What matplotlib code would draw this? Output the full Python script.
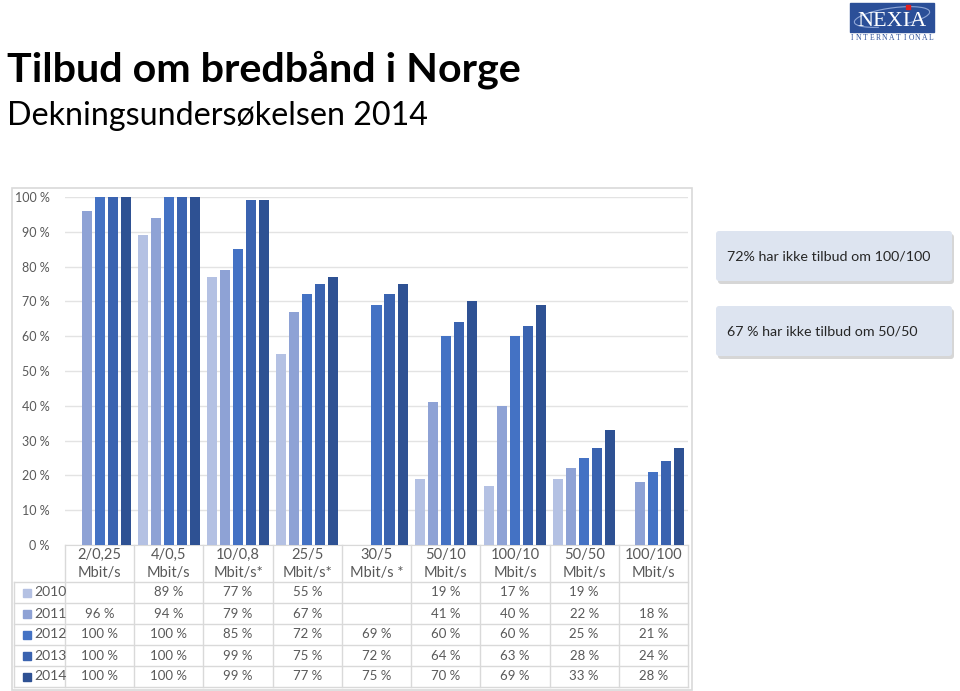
import numpy as np
import matplotlib.pyplot as plt
from matplotlib.patches import Rectangle, FancyBboxPatch, Arc
from matplotlib.transforms import blended_transform_factory

plt.rcParams['font.family'] = ['Lato', 'DejaVu Sans']

# Data
categories = ['2/0,25\nMbit/s', '4/0,5\nMbit/s', '10/0,8\nMbit/s*', '25/5\nMbit/s*',
              '30/5\nMbit/s *', '50/10\nMbit/s', '100/10\nMbit/s', '50/50\nMbit/s',
              '100/100\nMbit/s']
years = ['2010', '2011', '2012', '2013', '2014']
v2010 = [np.nan, 89, 77, 55, np.nan, 19, 17, 19, np.nan]
v2011 = [96, 94, 79, 67, np.nan, 41, 40, 22, 18]
v2012 = [100, 100, 85, 72, 69, 60, 60, 25, 21]
v2013 = [100, 100, 99, 75, 72, 64, 63, 28, 24]
v2014 = [100, 100, 99, 77, 75, 70, 69, 33, 28]
series = [v2010, v2011, v2012, v2013, v2014]
colors = ['#b4c1e3', '#8ea2d5', '#4472c4', '#3a63b0', '#2e5193']
notes = ['72% har ikke tilbud om 100/100', '67 % har ikke tilbud om 50/50']

W, H = 960, 691
fig = plt.figure(figsize=(W / 100, H / 100), dpi=100)

# overlay in pixel coordinates
ov = fig.add_axes([0, 0, 1, 1])
ov.set_xlim(0, W)
ov.set_ylim(H, 0)
ov.axis('off')

# chart frame
ov.add_patch(Rectangle((12, 188), 680, 502, fill=False, edgecolor='#d9d9d9', lw=1.2))

# main bar axes
x0, x1, ytop, ybot = 65, 688, 197, 545
ax = fig.add_axes([x0 / W, (H - ybot) / H, (x1 - x0) / W, (ybot - ytop) / H])
ax.set_zorder(2)
ax.patch.set_alpha(0)
n = len(categories)
x = np.arange(n)
slot = 0.188
for j, (vals, c) in enumerate(zip(series, colors)):
    ax.bar(x + (j - 2) * slot, vals, width=0.145, color=c, zorder=3)
ax.set_xlim(-0.5, n - 0.5)
ax.set_ylim(0, 100)
ax.set_yticks(range(0, 101, 10))
ax.set_yticklabels([f'{t} %' for t in range(0, 101, 10)], color='#595959', fontsize=9)
ax.tick_params(axis='y', length=0, pad=11)
ax.set_xticks([])
ax.grid(axis='y', color='#e3e3e3', lw=1)
for s in ['top', 'right', 'left']:
    ax.spines[s].set_visible(False)
ax.spines['bottom'].set_color('#d9d9d9')

# data table below the axis
tr = blended_transform_factory(ax.transData, ov.transData)
row_y = [582, 603, 624, 645, 666, 687]
grid_c = '#d9d9d9'
for b in np.arange(-0.5, n, 1):
    ov.plot([b, b], [ybot, row_y[-1]], color=grid_c, lw=1, transform=tr, clip_on=False)
for ry in row_y:
    ov.plot([14, x1], [ry, ry], color=grid_c, lw=1, clip_on=False)
ov.plot([14, 14], [row_y[0], row_y[-1]], color=grid_c, lw=1)
for i, cat in enumerate(categories):
    ov.text(i, 564, cat, transform=tr, ha='center', va='center', fontsize=10.5,
            color='#595959', linespacing=1.3)
for r, (yr, vals, c) in enumerate(zip(years, series, colors)):
    yc = (row_y[r] + row_y[r + 1]) / 2
    ov.add_patch(Rectangle((23, yc - 4), 8, 8, color=c))
    ov.text(34, yc, yr, ha='left', va='center', fontsize=10, color='#595959')
    for i, v in enumerate(vals):
        if not np.isnan(v):
            ov.text(i, yc, f'{v:.0f} %', transform=tr, ha='center', va='center',
                    fontsize=9.5, color='#595959')

# titles
ov.text(7, 70, 'Tilbud om bredbånd i Norge', fontsize=29.7, fontweight='bold',
        ha='left', va='center', color='black')
ov.text(7, 116, 'Dekningsundersøkelsen 2014', fontsize=23.2, ha='left', va='center',
        color='black')

# callout boxes
for k, note in enumerate(notes):
    by = 231 + k * 75
    ov.add_patch(FancyBboxPatch((718, by + 3), 236, 50, boxstyle='round,pad=0,rounding_size=3',
                                facecolor='#9a9a9a', edgecolor='none', alpha=0.4))
    ov.add_patch(FancyBboxPatch((716, by), 236, 50, boxstyle='round,pad=0,rounding_size=3',
                                facecolor='#dde4f0', edgecolor='none'))
    ov.text(727, by + 25, note, fontsize=10.3, ha='left', va='center', color='#262626')

# logo
ov.add_patch(Rectangle((850, 3), 84, 29, color='#2b4f98'))
ov.add_patch(Arc((892, 17), 76, 18, angle=-8, theta1=150, theta2=390, color='#8fa6d6', lw=0.8))
ov.text(892, 21, 'NEXIA', fontsize=16, family='Liberation Serif', color='white',
        ha='center', va='center')
ov.plot([908], [7], 's', color='#e02020', ms=3)
for k, ch in enumerate('INTERNATIONAL'):
    ov.text(852 + k * 6.6, 38, ch, fontsize=5.5, family='Liberation Serif', color='#2b4f98',
            ha='center', va='center')

fig.savefig('out.png', dpi=100)
